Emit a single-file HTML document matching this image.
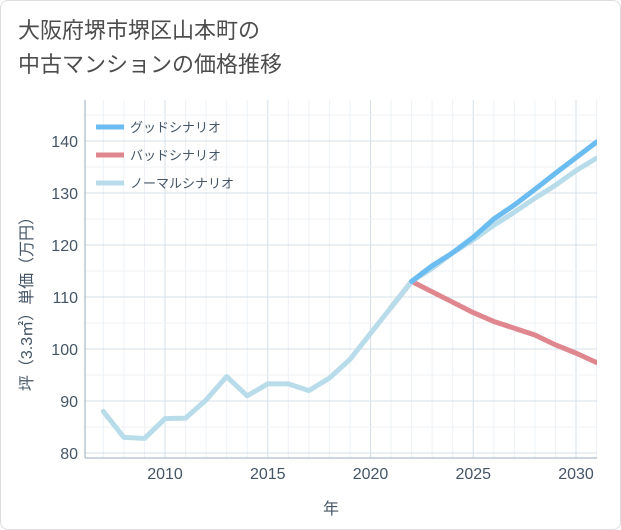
<!DOCTYPE html>
<html><head><meta charset="utf-8"><style>
body{margin:0;background:#fff;font-family:"Liberation Sans","Noto Sans CJK JP",sans-serif;}
#card{position:absolute;left:0;top:0;width:619px;height:528px;border:1px solid #ddd;border-radius:8px;background:#fff;}
#title{position:absolute;left:18px;top:14px;font-size:22px;line-height:34px;color:#4d4d4d;}
</style></head><body>
<div id="card"></div>
<div id="title">大阪府堺市堺区山本町の<br>中古マンションの価格推移</div>
<svg id="chart" width="621" height="530" style="position:absolute;left:0;top:0"></svg>
<script>
const years=[2007,2008,2009,2010,2011,2012,2013,2014,2015,2016,2017,2018,2019,2020,2021,2022,2023,2024,2025,2026,2027,2028,2029,2030,2031];
const normal=[88,83,82.8,86.6,86.7,90.2,94.7,91,93.3,93.3,92,94.4,98,103,108,113,115.5,118.5,121,123.8,126.3,129,131.5,134.3,136.7];
const goodYears=[2022,2023,2024,2025,2026,2027,2028,2029,2030,2031];
const good=[113,116,118.5,121.5,125,127.7,130.7,133.8,136.8,139.8];
const badYears=[2021,2022,2023,2024,2025,2026,2027,2028,2029,2030,2031];
const bad=[108,113,111,109,107,105.3,104,102.7,100.8,99.2,97.4];
const xTicks=[2010,2015,2020,2025,2030];
const yTicks=[80,90,100,110,120,130,140];
const L=85,R=597,T=100,B=458;
const x=v=>165+(v-2010)*20.55;
const y=v=>453-(v-80)*5.2;
const svg=document.getElementById('chart');
const NS='http://www.w3.org/2000/svg';
function mk(t,a,parent){const e=document.createElementNS(NS,t);for(const k in a)e.setAttribute(k,a[k]);(parent||svg).appendChild(e);return e;}
const defs=mk('defs',{});
const cp=mk('clipPath',{id:'plotclip'},defs);
mk('rect',{x:L,y:T-10,width:R-L,height:B-T+10},cp);
for(let yr=2007;yr<=2031;yr++){if(x(yr)<L)continue;const l=mk('line',{x1:x(yr),x2:x(yr),y1:T,y2:B,stroke:(yr%5==0)?'#d5e0ea':'#edf2f6','stroke-width':1});

}
for(let v=80;v<=145;v+=5){const l=mk('line',{x1:L,x2:R,y1:y(v),y2:y(v),stroke:(v%10==0)?'#d5e0ea':'#edf2f6','stroke-width':1});

}
const ax=mk('line',{x1:L,x2:L,y1:T,y2:B,stroke:'#9ab',"stroke-width":1});


const bx=mk('line',{x1:L,x2:R,y1:B,y2:B,stroke:'#9ab',"stroke-width":1});


xTicks.forEach(v=>{const t=mk('text',{x:x(v),y:479,'text-anchor':'middle','font-size':16,fill:'#456'});t.textContent=v;

});
yTicks.forEach(v=>{const t=mk('text',{x:78,y:y(v)+6,'text-anchor':'end','font-size':16,fill:'#456'});t.textContent=v;

});
const xt=mk('text',{x:331,y:514,'text-anchor':'middle','font-size':16,fill:'#456'});xt.textContent='年';


const yt=mk('text',{x:0,y:0,'text-anchor':'middle','font-size':16,fill:'#456',transform:'translate(32,300) rotate(-90)'});yt.textContent='坪（3.3㎡）単価（万円）';


function line(xs,vs,c,n){const d=xs.map((yr,i)=>(i?'L':'M')+x(yr)+','+y(vs[i])).join('');const p=mk('path',{d:d,fill:'none',stroke:c,'stroke-width':5,'stroke-linejoin':'round','stroke-linecap':'round','clip-path':'url(#plotclip)'});

}
line(badYears,bad,'#e0868f','bad-scenario-line');
line(years,normal,'#b8dcea','normal-scenario-line');
line(goodYears,good,'#6bbcf0','good-scenario-line');
const leg=[['グッドシナリオ','#6bbcf0'],['バッドシナリオ','#e0868f'],['ノーマルシナリオ','#b8dcea']];
leg.forEach((e,i)=>{const yy=127+i*28;const l=mk('line',{x1:96,x2:124,y1:yy,y2:yy,stroke:e[1],'stroke-width':5});


const t=mk('text',{x:130,y:yy+5,'font-size':13,fill:'#456'});t.textContent=e[0];

});
</script>
</body></html>
